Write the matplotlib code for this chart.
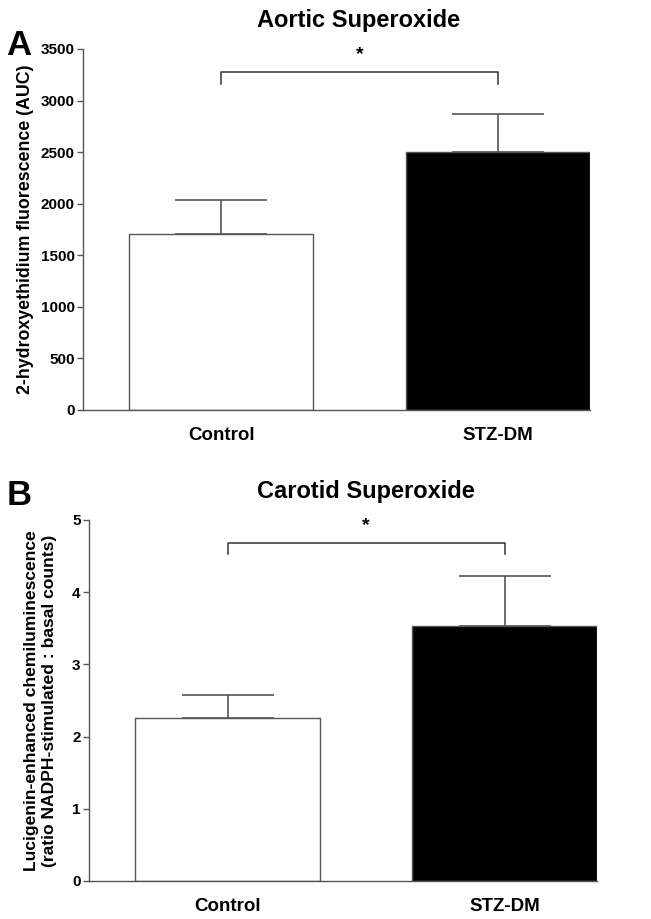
import matplotlib
matplotlib.use("Agg")
import matplotlib.pyplot as plt
import numpy as np

plt.rcParams['font.family'] = ['Liberation Sans', 'DejaVu Sans']
plt.rcParams['font.weight'] = 'bold'

groups = ["Control", "STZ-DM"]

# panel A - aortic superoxide
aortic_mean = [1710, 2500]
aortic_sem = [330, 370]

# panel B - carotid superoxide
carotid_mean = [2.26, 3.53]
carotid_sem = [0.31, 0.70]

bar_colors = ["white", "black"]
grey = "#555555"


def panel(ax, means, sems, ymax, step, title, title_x, ylabel, ylabel_size, ylabel_pad,
          letter, bracket_y, bracket_drop, letter_pos):
    x = np.arange(len(groups))
    ax.bar(x, means, width=0.666, color=bar_colors, edgecolor=grey, linewidth=1.0, zorder=2)
    ax.errorbar(x, means, yerr=[np.zeros(len(sems)), sems], fmt="none",
                ecolor=grey, elinewidth=1.2, capsize=33, capthick=1.2, zorder=1)
    # significance bracket
    ax.plot([0, 0, 1, 1], [bracket_y - bracket_drop, bracket_y, bracket_y, bracket_y - bracket_drop],
            color="#333333", lw=1.1, clip_on=False)
    ax.text(0.5, bracket_y + ymax * 0.025, "*", ha="center", va="bottom", fontsize=14, fontweight="bold")

    ax.set_xlim(-0.5, 1.333)
    ax.set_ylim(0, ymax)
    ax.set_yticks(np.arange(0, ymax + step / 2, step))
    ax.set_xticks(x)
    ax.set_xticklabels(groups, fontsize=13.5, fontweight="bold")
    ax.tick_params(axis="x", length=0, pad=12)
    ax.tick_params(axis="y", length=4, width=1, color=grey, labelsize=11, pad=2)
    for s in ["top", "right"]:
        ax.spines[s].set_visible(False)
    for s in ["left", "bottom"]:
        ax.spines[s].set_color(grey)
        ax.spines[s].set_linewidth(1.0)
    ax.set_title(title, fontsize=17, fontweight="bold", pad=16, x=title_x)
    ax.set_ylabel(ylabel, fontsize=ylabel_size, fontweight="bold", labelpad=ylabel_pad)
    ax.text(letter_pos[0], letter_pos[1], letter, transform=ax.figure.transFigure,
            fontsize=25, fontweight="bold", ha="left", va="center")


fig = plt.figure(figsize=(6.51, 9.19), dpi=100)
ax1 = fig.add_axes([0.1275, 0.5539, 0.779, 0.3928])
ax2 = fig.add_axes([0.1367, 0.0414, 0.780, 0.3928])

panel(ax1, aortic_mean, aortic_sem, 3500, 500, "Aortic Superoxide", 0.543,
      "2-hydroxyethidium fluorescence (AUC)", 12.8, 5, "A", 3280, 120, (0.010, 0.951))
panel(ax2, carotid_mean, carotid_sem, 5, 1, "Carotid Superoxide", 0.545,
      "Lucigenin-enhanced chemiluminescence\n(ratio NADPH-stimulated : basal counts)", 12.6, 11, "B",
      4.68, 0.15, (0.010, 0.461))

fig.savefig("out.png", dpi=100)
